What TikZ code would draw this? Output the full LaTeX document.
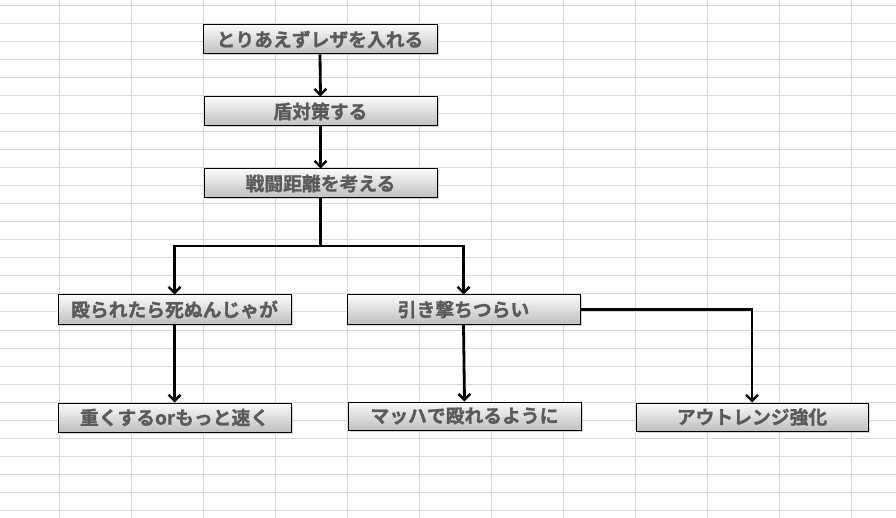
\documentclass[tikz,border=0pt]{standalone}
\usepackage{fontspec}
\newfontfamily\cjk{Noto Sans CJK JP}[BoldFont={Noto Sans CJK JP Bold},BoldFeatures={FakeBold=1.2}]
\usetikzlibrary{arrows.meta,shadows}
\definecolor{gridc}{HTML}{D9D9D9}
\definecolor{txtc}{HTML}{5A5A5A}
\tikzset{
  box/.style={draw=black, line width=1pt, minimum width=233pt, minimum height=29pt, inner sep=0pt,
    top color=white!96!gray, bottom color=gray!50, 
    drop shadow={opacity=0.35, shadow xshift=1.5pt, shadow yshift=-1.5pt},
    font=\cjk\bfseries\fontsize{18.8pt}{20pt}\selectfont, text=txtc},
  conn/.style={line width=2.8pt, black},
  arr/.style={conn, -{Straight Barb[length=6pt,width=12pt,line width=2.4pt]}}
}
\begin{document}
\begin{tikzpicture}[x=1pt,y=-1pt]
\useasboundingbox (0,0) rectangle (896,518);
\fill[white] (0,0) rectangle (896,518);
% grid
\foreach \y in {6,24,...,510} \draw[gridc, line width=1pt] (0,\y) -- (896,\y);
\foreach \x in {59,131,...,851} \draw[gridc, line width=1pt] (\x,0) -- (\x,518);
% boxes
\node[box, minimum width=234pt] (b1) at (320,39.5) {とりあえずレザを入れる};
\node[box] (b2) at (320.5,111.5) {盾対策する};
\node[box] (b3) at (320.5,183.5) {戦闘距離を考える};
\node[box] (b4) at (174.5,309.5) {殴られたら死ぬんじゃが};
\node[box] (b5) at (463.5,309.5) {引き撃ちつらい};
\node[box] (b6) at (174.5,417.5) {重くするorもっと速く};
\node[box, minimum height=28pt] (b7) at (464.5,416) {マッハで殴れるように};
\node[box, minimum width=232pt, minimum height=28pt] (b8) at (752,417) {アウトレンジ強化};
% connectors
\coordinate (j) at (320.5,246);
\draw[arr] (b1.south) -- (b2.north);
\draw[arr] (b2.south) -- (b3.north);
\draw[conn] (b3.south) -- (j);
\draw[arr] (j) -| (b4.north);
\draw[arr] (j) -| (b5.north);
\draw[arr] (b4.south) -- (b6.north);
\draw[arr] (b5.south) -- (b7.north);
\draw[arr] (b5.east) -| (b8.north);
\end{tikzpicture}
\end{document}
